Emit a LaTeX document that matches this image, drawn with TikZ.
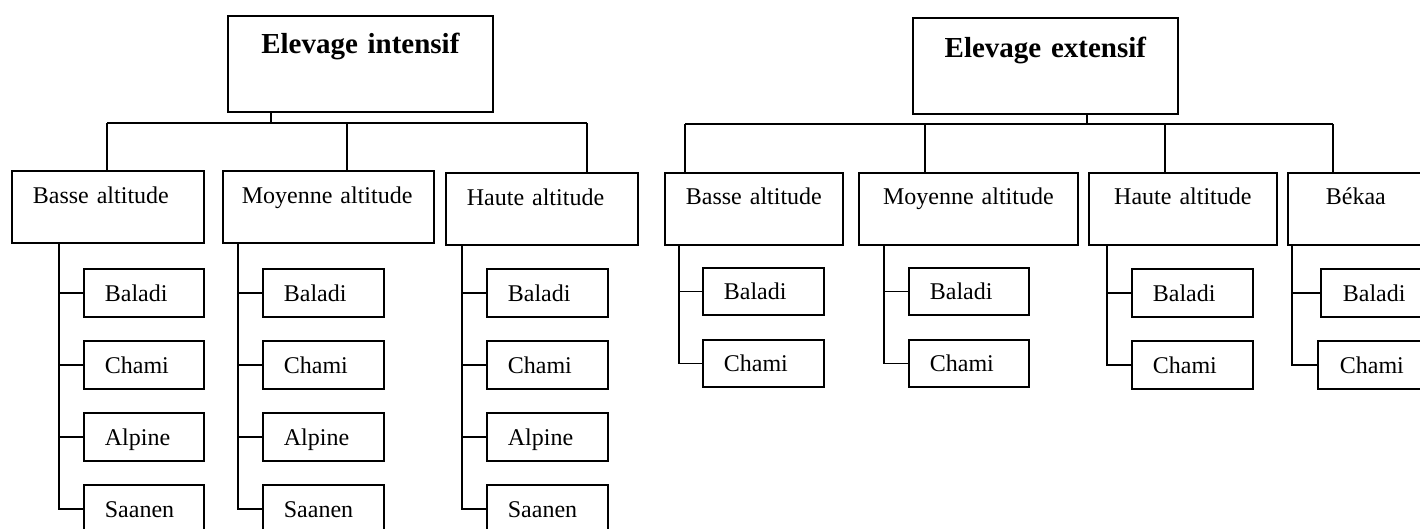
\documentclass[tikz,border=0pt]{standalone}
\usepackage{fontspec}
\setmainfont{Liberation Serif}
\tikzset{
  bx/.style={draw, line width=1.7pt, inner sep=0pt, anchor=north west},
  ttl/.style={bx, font=\fontsize{29}{34}\selectfont\bfseries, text width=265pt, align=center},
  grp/.style={bx, font=\fontsize{24}{28}\selectfont, text height=33pt, text depth=39pt},
  kid/.style={bx, font=\fontsize{24}{28}\selectfont, align=left, text height=33pt, text depth=15pt},
  ln/.style={line width=1.7pt}
}
\begin{document}
\begin{tikzpicture}[x=1pt,y=-1pt]
\useasboundingbox (0,0) rectangle (1420,529);
\clip (0,0) rectangle (1420,529);

% ---------------- Elevage intensif ----------------
\node[ttl, text height=38pt, text depth=58pt] (it) at (227,15) {Elevage intensif};
\node[grp, align=left, text width=192pt] (i1) at (11,170) {\hspace*{21pt}Basse altitude};
\node[grp, align=left, text width=211pt] (i2) at (222,170) {\hspace*{19pt}Moyenne altitude};
\node[grp, align=left, text width=192pt] (i3) at (445,172) {\hspace*{21pt}Haute altitude};

\coordinate (istub) at (271,123);
\coordinate (iv1) at (107,123);
\coordinate (iv2) at (347,123);
\coordinate (iv3) at (587,123);
\draw[ln] (it.south -| istub) -- (istub);
\draw[ln] (iv1) -- (iv3);
\draw[ln] (iv1) -- (iv1 |- i1.north);
\draw[ln] (iv2) -- (iv2 |- i2.north);
\draw[ln] (iv3) -- (iv3 |- i3.north);

\coordinate (i1s) at (59,0);
\coordinate (i2s) at (238,0);
\coordinate (i3s) at (462,0);
\foreach \g/\x/\w in {1/83/120, 2/262/121, 3/486/121}{
  \foreach \n/\t [count=\k] in {a/Baladi, b/Chami, c/Alpine, d/Saanen}{
    \node[kid, text width=\w pt] (i\g\n) at (\x,{268+72*(\k-1)}) {\hspace*{21pt}\t};
  }
  \draw[ln] (i\g.south -| i\g s) |- (i\g d.west);
  \foreach \n in {a,b,c}{
    \draw[ln] (i\g\n.west -| i\g s) -- (i\g\n.west);
  }
}

% ---------------- Elevage extensif ----------------
\node[ttl, text height=40pt, text depth=56pt] (et) at (912,17) {Elevage extensif};
\node[grp, align=center, text width=178pt, text height=32pt, text depth=40pt] (e1) at (664,172) {Basse altitude};
\node[grp, align=center, text width=219pt, text height=32pt, text depth=40pt] (e2) at (858,172) {Moyenne altitude};
\node[grp, align=center, text width=188pt, text height=32pt, text depth=40pt] (e3) at (1088,172) {Haute altitude};
\node[grp, align=center, text width=136pt, text height=32pt, text depth=40pt] (e4) at (1287,172) {Békaa};

\coordinate (estub) at (1087,124);
\coordinate (ev1) at (685,124);
\coordinate (ev2) at (925,124);
\coordinate (ev3) at (1165,124);
\coordinate (ev4) at (1333,124);
\draw[ln] (et.south -| estub) -- (estub);
\draw[ln] (ev1) -- (ev4);
\draw[ln] (ev1) -- (ev1 |- e1.north);
\draw[ln] (ev2) -- (ev2 |- e2.north);
\draw[ln] (ev3) -- (ev3 |- e3.north);
\draw[ln] (ev4) -- (ev4 |- e4.north);

\coordinate (e1s) at (679,0);
\coordinate (e2s) at (884,0);
\coordinate (e3s) at (1107,0);
\coordinate (e4s) at (1292,0);
\node[kid, text width=121pt, text height=32pt, text depth=15pt] (e1a) at (702,267) {\hspace*{21pt}Baladi};
\node[kid, text width=121pt, text height=32pt, text depth=15pt] (e1b) at (702,339) {\hspace*{21pt}Chami};
\node[kid, text width=120pt, text height=32pt, text depth=15pt] (e2a) at (908,267) {\hspace*{21pt}Baladi};
\node[kid, text width=120pt, text height=32pt, text depth=15pt] (e2b) at (908,339) {\hspace*{21pt}Chami};
\node[kid, text width=121pt] (e3a) at (1131,268) {\hspace*{21pt}Baladi};
\node[kid, text width=121pt] (e3b) at (1131,340) {\hspace*{21pt}Chami};
\node[kid, text width=121pt] (e4a) at (1320,268) {\hspace*{22pt}Baladi};
\node[kid, text width=124pt] (e4b) at (1317,340) {\hspace*{22pt}Chami};
\foreach \g in {1,2,3,4}{
  \draw[ln] (e\g.south -| e\g s) |- (e\g b.west);
  \draw[ln] (e\g a.west -| e\g s) -- (e\g a.west);
}
\end{tikzpicture}
\end{document}
